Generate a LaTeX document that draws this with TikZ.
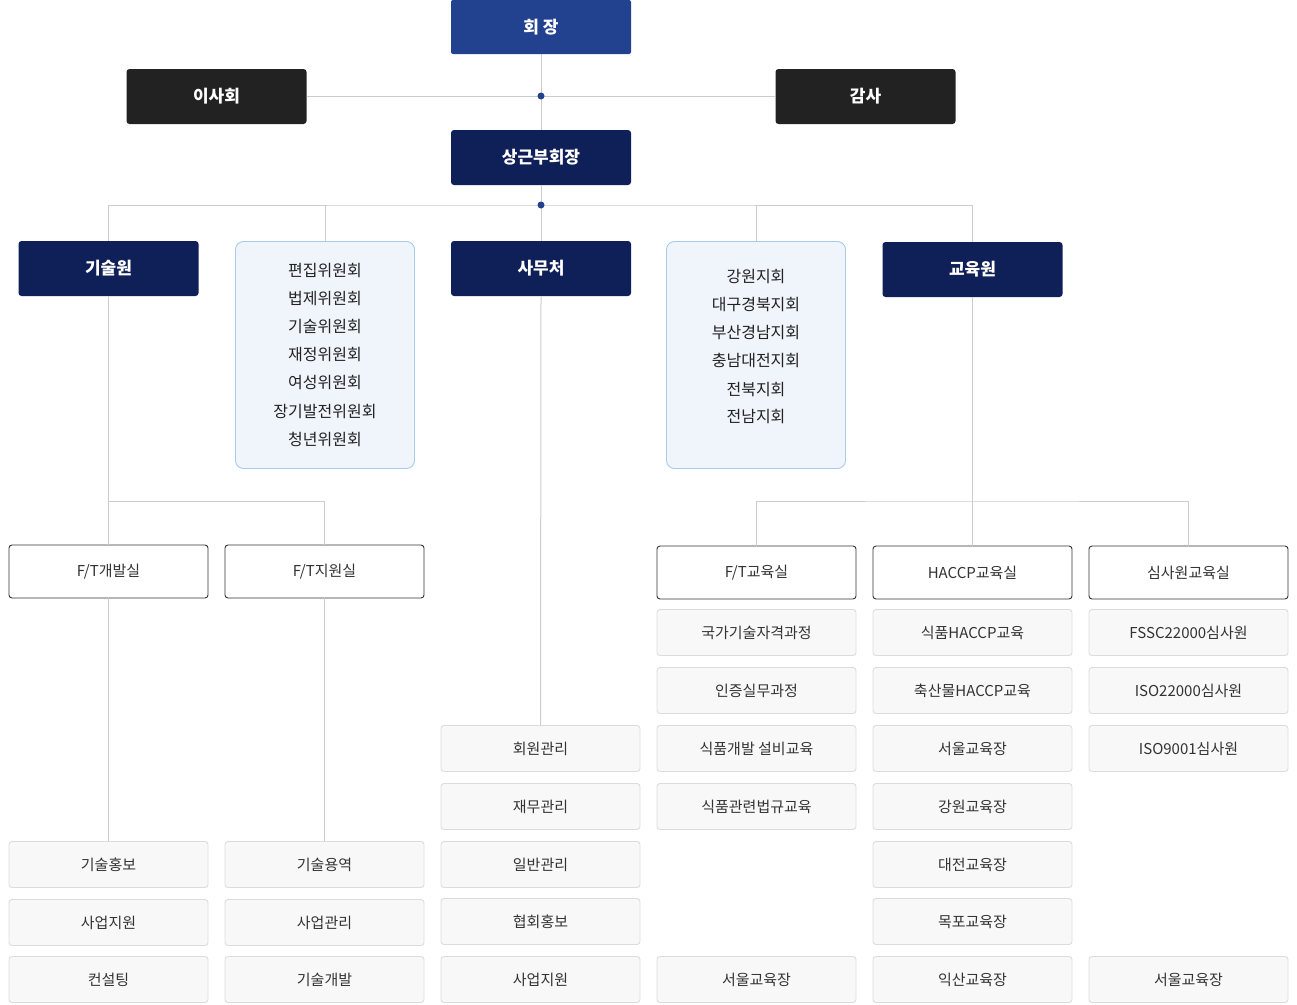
\documentclass[tikz,border=0pt]{standalone}
\usepackage{fontspec}
\setmainfont{Noto Sans CJK KR}
\definecolor{navy}{HTML}{0F1F57}
\definecolor{chair}{HTML}{22418F}
\definecolor{dark}{HTML}{222222}
\definecolor{linec}{HTML}{CCCCCC}
\definecolor{grpfill}{HTML}{F0F5FC}
\definecolor{grpline}{HTML}{A9CBEB}
\definecolor{itemfill}{HTML}{F8F8F8}
\definecolor{itemline}{HTML}{DCDCDC}
\definecolor{txt}{HTML}{333333}
\definecolor{unitline}{HTML}{333333}
\begin{document}
\begin{tikzpicture}[x=1pt,y=-1pt,
  hdr/.style={rectangle,rounded corners=3pt,fill=navy,text=white,minimum width=180pt,minimum height=55pt,inner sep=0pt,font=\fontsize{17}{20}\selectfont\bfseries},
  unit/.style={rectangle,rounded corners=3pt,draw=unitline,line width=0.9pt,fill=white,text=txt,minimum width=199pt,minimum height=53pt,inner sep=0pt,font=\fontsize{15}{18}\selectfont},
  item/.style={rectangle,rounded corners=3pt,draw=itemline,line width=0.9pt,fill=itemfill,text=txt,minimum width=199pt,minimum height=46pt,inner sep=0pt,font=\fontsize{15}{18}\selectfont},
  grp/.style={rectangle,rounded corners=8pt,draw=grpline,line width=0.9pt,fill=grpfill,minimum width=179pt,minimum height=227pt,inner sep=0pt},
  grptext/.style={align=center,text=dark,inner sep=0pt,font=\fontsize{16}{28}\selectfont},
  conn/.style={draw=linec,line width=1pt},
  dot/.style={circle,fill=chair,inner sep=0pt,minimum size=7pt}]
\useasboundingbox (0,0) rectangle (1297,1004);

% top level
\node[hdr,fill=chair,minimum height=54pt,rounded corners=2pt] (chair) at (541,27) {회 장};
\node[hdr,fill=dark] (isa) at (216.5,96.5) {이사회};
\node[hdr,fill=dark] (gamsa) at (865.5,96.5) {감사};
\node[hdr] (bu) at (541,157.5) {상근부회장};

% second level
\node[hdr] (gisul) at (108.5,268.5) {기술원};
\node[grp] (comm) at (325,355) {};
\node[grptext] (commtext) at (325,355) {편집위원회\\법제위원회\\기술위원회\\재정위원회\\여성위원회\\장기발전위원회\\청년위원회};
\node[hdr] (samu) at (541,268.5) {사무처};
\node[grp] (branch) at (756,355) {};
\node[grptext] (branchtext) at (756,347) {강원지회\\대구경북지회\\부산경남지회\\충남대전지회\\전북지회\\전남지회};
\node[hdr] (gyoyuk) at (972.5,269.5) {교육원};

% units
\node[unit] (ftdev) at (108.5,571.5) {F/T개발실};
\node[unit] (ftsup) at (324.5,571.5) {F/T지원실};
\node[unit] (fted) at (756.5,572.5) {F/T교육실};
\node[unit] (haccp) at (972.5,572.5) {HACCP교육실};
\node[unit] (simsa) at (1188.5,572.5) {심사원교육실};

% column 1
\node[item] (a1) at (108.5,864.5) {기술홍보};
\node[item] (a2) at (108.5,922.5) {사업지원};
\node[item] (a3) at (108.5,979.5) {컨설팅};
% column 2
\node[item] (b1) at (324.5,864.5) {기술용역};
\node[item] (b2) at (324.5,922.5) {사업관리};
\node[item] (b3) at (324.5,979.5) {기술개발};
% column 3
\node[item] (c1) at (540.5,748.5) {회원관리};
\node[item] (c2) at (540.5,806.5) {재무관리};
\node[item] (c3) at (540.5,864.5) {일반관리};
\node[item] (c4) at (540.5,921.5) {협회홍보};
\node[item] (c5) at (540.5,979.5) {사업지원};
% column 4
\node[item] (d1) at (756.5,632.5) {국가기술자격과정};
\node[item] (d2) at (756.5,690.5) {인증실무과정};
\node[item] (d3) at (756.5,748.5) {식품개발 설비교육};
\node[item] (d4) at (756.5,806.5) {식품관련법규교육};
\node[item] (d5) at (756.5,979.5) {서울교육장};
% column 5
\node[item] (e1) at (972.5,632.5) {식품HACCP교육};
\node[item] (e2) at (972.5,690.5) {축산물HACCP교육};
\node[item] (e3) at (972.5,748.5) {서울교육장};
\node[item] (e4) at (972.5,806.5) {강원교육장};
\node[item] (e5) at (972.5,864.5) {대전교육장};
\node[item] (e6) at (972.5,921.5) {목포교육장};
\node[item] (e7) at (972.5,979.5) {익산교육장};
% column 6
\node[item] (f1) at (1188.5,632.5) {FSSC22000심사원};
\node[item] (f2) at (1188.5,690.5) {ISO22000심사원};
\node[item] (f3) at (1188.5,748.5) {ISO9001심사원};
\node[item] (f4) at (1188.5,979.5) {서울교육장};

% junctions
\coordinate (j1) at (541,96);
\coordinate (j2) at (541,205);
\coordinate (j3) at (108.5,501);
\coordinate (j4) at (972.5,501);

% connectors
\draw[conn] (chair.south) -- (bu.north);
\draw[conn] (isa.east) -- (gamsa.west);
\draw[conn] (bu.south) -- (j2);
\draw[conn] (gisul.north) |- (j2) -| (gyoyuk.north);
\draw[conn] (comm.north) -- (comm.north |- j2);
\draw[conn] (samu.north) -- (j2);
\draw[conn] (branch.north) -- (branch.north |- j2);
\draw[conn] (gisul.south) -- (ftdev.north);
\draw[conn] (j3) -| (ftsup.north);
\draw[conn] (ftdev.south) -- (a1.north);
\draw[conn] (ftsup.south) -- (b1.north);
\draw[conn] (samu.south) -- (c1.north);
\draw[conn] (gyoyuk.south) -- (haccp.north);
\draw[conn] (fted.north) |- (j4) -| (simsa.north);

\node[dot] (dot1) at (j1) {};
\node[dot] (dot2) at (j2) {};
\end{tikzpicture}
\end{document}
